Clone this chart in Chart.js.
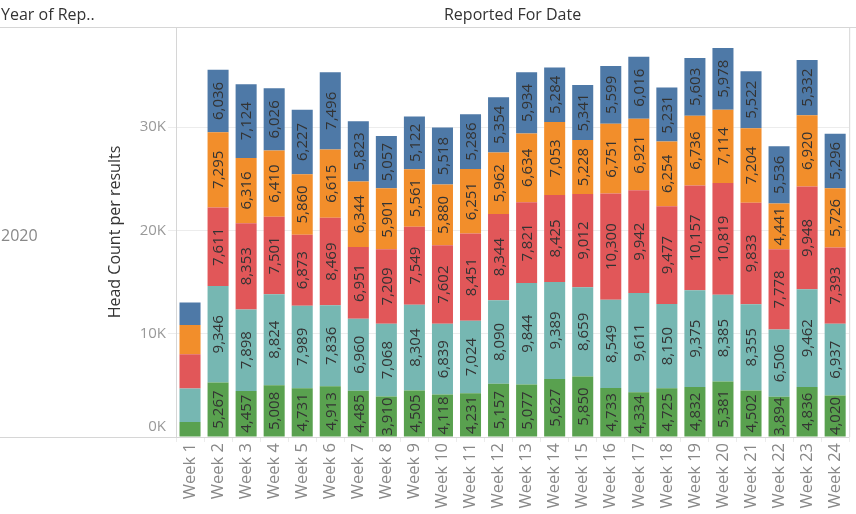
<!DOCTYPE html>
<html>
<head>
<meta charset="utf-8">
<script src="https://cdn.jsdelivr.net/npm/chart.js@4/dist/chart.umd.min.js"></script>
<style>
  html, body { margin: 0; padding: 0; background: #fff; }
  #wrap { width: 856px; height: 514px; position: relative; }
</style>
</head>
<body>
<div id="wrap"><canvas id="chart"></canvas></div>
<script>
// Données
const weeks = ['Week 1', 'Week 2', 'Week 3', 'Week 4', 'Week 5', 'Week 6', 'Week 7', 'Week 8',
  'Week 9', 'Week 10', 'Week 11', 'Week 12', 'Week 13', 'Week 14', 'Week 15', 'Week 16',
  'Week 17', 'Week 18', 'Week 19', 'Week 20', 'Week 21', 'Week 22', 'Week 23', 'Week 24'];

const greenValues = [1450, 5267, 4457, 5008, 4731, 4913, 4485, 3910, 4505, 4118, 4231, 5157,
  5077, 5627, 5850, 4733, 4334, 4725, 4832, 5381, 4502, 3894, 4836, 4020];
const tealValues = [3240, 9346, 7898, 8824, 7989, 7836, 6960, 7068, 8304, 6839, 7024, 8090,
  9844, 9389, 8659, 8549, 9611, 8150, 9375, 8385, 8355, 6506, 9462, 6937];
const redValues = [3320, 7611, 8353, 7501, 6873, 8469, 6951, 7209, 7549, 7602, 8451, 8344,
  7821, 8425, 9012, 10300, 9942, 9477, 10157, 10819, 9833, 7778, 9948, 7393];
const orangeValues = [2840, 7295, 6316, 6410, 5860, 6615, 6344, 5901, 5561, 5880, 6251, 5962,
  6634, 7053, 5228, 6751, 6921, 6254, 6736, 7114, 7204, 4441, 6920, 5726];
const blueValues = [2170, 6036, 7124, 6026, 6227, 7496, 5823, 5057, 5122, 5518, 5286, 5354,
  5934, 5284, 5341, 5599, 6016, 5231, 5603, 5978, 5522, 5536, 5332, 5296];

const yTicks = [0, 10000, 20000, 30000];
const yMax = 39700;

const FONT = '"Open Sans", "DejaVu Sans", sans-serif';
const lineColor = '#d6d6d6';
const fmtK = v => (v / 1000) + 'K';

// Étiquettes de valeurs dans les barres (texte vertical)
const barLabels = {
  id: 'barLabels',
  afterDatasetsDraw(chart) {
    const ctx = chart.ctx;
    ctx.save();
    ctx.font = '15px ' + FONT;
    ctx.fillStyle = '#333';
    ctx.textAlign = 'center';
    ctx.textBaseline = 'middle';
    chart.data.datasets.forEach((ds, i) => {
      const meta = chart.getDatasetMeta(i);
      meta.data.forEach((bar, j) => {
        const h = Math.abs(bar.base - bar.y);
        const txt = ds.data[j].toLocaleString('en-US');
        const w = ctx.measureText(txt).width;
        // pas d'étiquette si le segment est trop court (semaine 1)
        if (w > h) return;
        ctx.save();
        ctx.translate(bar.x, (bar.y + bar.base) / 2);
        ctx.rotate(-Math.PI / 2);
        ctx.fillText(txt, 0, 1);
        ctx.restore();
      });
    });
    ctx.restore();
  }
};

// Cadre et en-têtes façon tableau croisé
const frame = {
  id: 'frame',
  afterDraw(chart) {
    const ctx = chart.ctx;
    const a = chart.chartArea;
    ctx.save();
    ctx.strokeStyle = lineColor;
    ctx.lineWidth = 1;
    ctx.beginPath();
    ctx.moveTo(0, a.top + 0.5); ctx.lineTo(856, a.top + 0.5);
    ctx.moveTo(0, a.bottom + 0.5); ctx.lineTo(a.right, a.bottom + 0.5);
    ctx.moveTo(a.left + 0.5, a.top); ctx.lineTo(a.left + 0.5, a.bottom);
    ctx.moveTo(a.right + 0.5, a.top); ctx.lineTo(a.right + 0.5, a.bottom);
    ctx.stroke();

    ctx.fillStyle = '#333';
    ctx.font = '16px ' + FONT;
    ctx.textBaseline = 'middle';
    ctx.textAlign = 'left';
    ctx.fillText('Year of Rep..', 1, 15);
    ctx.textAlign = 'center';
    ctx.fillText('Reported For Date', (a.left + a.right) / 2, 15);

    ctx.fillStyle = '#888';
    ctx.textAlign = 'left';
    ctx.fillText('2020', 1, 236);

    // l'étiquette 0K est remontée pour rester dans la zone, comme dans Tableau
    const y = chart.scales.y;
    ctx.font = '15px ' + FONT;
    ctx.fillStyle = '#999';
    ctx.textAlign = 'right';
    ctx.fillText(fmtK(yTicks[0]), a.left - 10, y.getPixelForValue(yTicks[0]) - 10);
    ctx.restore();
  }
};

const ctx = document.getElementById('chart').getContext('2d');
const chart = new Chart(ctx, {
  type: 'bar',
  data: {
    labels: weeks,
    datasets: [
      { label: 'Green', data: greenValues, backgroundColor: '#59a14f' },
      { label: 'Teal', data: tealValues, backgroundColor: '#76b7b2' },
      { label: 'Red', data: redValues, backgroundColor: '#e15759' },
      { label: 'Orange', data: orangeValues, backgroundColor: '#f28e2b' },
      { label: 'Blue', data: blueValues, backgroundColor: '#4e79a7' }
    ]
  },
  options: {
    responsive: true,
    maintainAspectRatio: false,
    animation: false,
    layout: { padding: { top: 27, right: 2, bottom: 0, left: 106 } },
    datasets: { bar: { categoryPercentage: 1, barPercentage: 0.75 } },
    plugins: {
      legend: { display: false },
      tooltip: { enabled: false }
    },
    scales: {
      x: {
        stacked: true,
        grid: { drawOnChartArea: false, color: '#ececec', tickLength: 5 },
        border: { display: false },
        ticks: {
          color: '#888',
          font: { family: FONT, size: 16.5 },
          minRotation: 90,
          maxRotation: 90,
          padding: 1,
          autoSkip: false
        },
        afterFit(scale) { scale.height = 77; }
      },
      y: {
        stacked: true,
        min: 0,
        max: yMax,
        grid: { color: '#ececec', tickLength: 8, drawTicks: true },
        border: { display: false },
        afterBuildTicks(scale) {
          scale.ticks = yTicks.map(v => ({ value: v }));
        },
        ticks: {
          color: '#999',
          font: { family: FONT, size: 15 },
          padding: 2,
          callback: v => (v === 0 ? '' : fmtK(v))
        },
        title: {
          display: true,
          text: 'Head Count per results',
          color: '#333',
          font: { family: FONT, size: 16 },
          padding: { top: 0, bottom: 0 }
        },
        afterFit(scale) { scale.width = 70; }
      }
    }
  },
  plugins: [barLabels, frame]
});
</script>
</body>
</html>
